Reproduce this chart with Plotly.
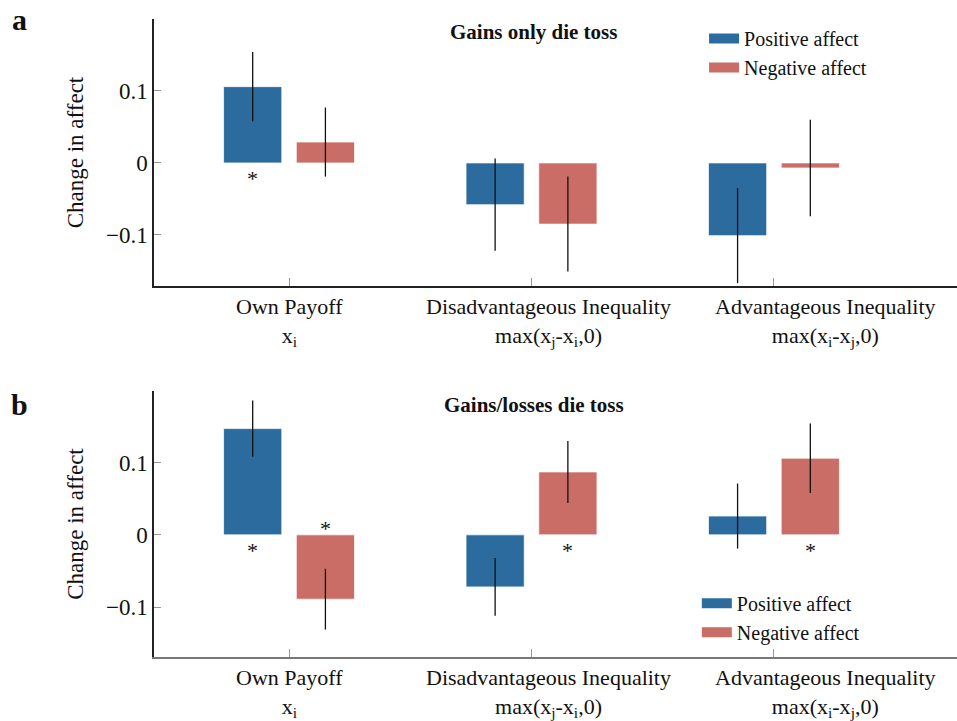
import plotly.graph_objects as go

categories = ["own", "disadv", "adv"]
cat_labels = ["Own Payoff<br>x<sub>i</sub>",
              "Disadvantageous Inequality<br>max(x<sub>j</sub>-x<sub>i</sub>,0)",
              "Advantageous Inequality<br>max(x<sub>i</sub>-x<sub>j</sub>,0)"]
label_shift = [0, 17, 52]

# Panel a: gains only die toss
a_pos = [0.106, -0.058, -0.101]
a_pos_err = [0.048, 0.064, 0.066]
a_neg = [0.029, -0.085, -0.007]
a_neg_err = [0.048, 0.066, 0.067]
a_stars_pos = ["below", None, None]
a_stars_neg = [None, None, None]

# Panel b: gains/losses die toss
b_pos = [0.147, -0.072, 0.026]
b_pos_err = [0.039, 0.040, 0.045]
b_neg = [-0.089, 0.087, 0.106]
b_neg_err = [0.042, 0.043, 0.048]
b_stars_pos = ["below", None, None]
b_stars_neg = ["above", "below", "below"]

BLUE = "#2c6b9e"
RED = "#c96d66"
FONT = "Times New Roman, Liberation Serif, DejaVu Serif, serif"
BARGAP = 0.4
BARGROUPGAP = 0.2
slot = (1 - BARGAP) / 2

fig = go.Figure()

def add_panel(pos, pos_err, neg, neg_err, xa, ya, legend):
    fig.add_trace(go.Bar(x=categories, y=pos, name="Positive affect",
                         marker=dict(color=BLUE, line=dict(color="rgba(255,255,255,0.7)", width=1)),
                         error_y=dict(type="data", array=pos_err, color="#111", thickness=1.3, width=0),
                         xaxis=xa, yaxis=ya, showlegend=False, offsetgroup="p"))
    fig.add_trace(go.Bar(x=categories, y=neg, name="Negative affect",
                         marker=dict(color=RED, line=dict(color="rgba(255,255,255,0.7)", width=1)),
                         error_y=dict(type="data", array=neg_err, color="#111", thickness=1.3, width=0),
                         xaxis=xa, yaxis=ya, showlegend=False, offsetgroup="n"))
    for nm, col in [("Positive affect", BLUE), ("Negative affect", RED)]:
        fig.add_trace(go.Scatter(x=[None], y=[None], mode="lines", name=nm,
                                 line=dict(color=col, width=12),
                                 xaxis=xa, yaxis=ya, legend=legend))

add_panel(a_pos, a_pos_err, a_neg, a_neg_err, "x", "y", "legend")
add_panel(b_pos, b_pos_err, b_neg, b_neg_err, "x2", "y2", "legend2")

annotations = []

def stars(marks, sign, xref, yref):
    for i, m in enumerate(marks):
        if m is None:
            continue
        annotations.append(dict(x=i + sign * slot / 2, y=0, xref=xref, yref=yref,
                                text="*", showarrow=False,
                                yanchor="middle",
                                yshift=-16 if m == "below" else 6,
                                font=dict(family=FONT, size=22, color="#111")))

stars(a_stars_pos, -1, "x", "y")
stars(a_stars_neg, 1, "x", "y")
stars(b_stars_pos, -1, "x2", "y2")
stars(b_stars_neg, 1, "x2", "y2")

for xref, yref in [("x", "y domain"), ("x2", "y2 domain")]:
    for i, lab in enumerate(cat_labels):
        annotations.append(dict(x=i, y=0, xref=xref, yref=yref, text=lab,
                                showarrow=False, yanchor="top", yshift=-6,
                                xshift=label_shift[i],
                                font=dict(family=FONT, size=22, color="#111")))

annotations += [
    dict(x=1, y=1, xref="x", yref="y domain", text="<b>Gains only die toss</b>",
         showarrow=False, yanchor="middle", yshift=-13, xshift=2,
         font=dict(family=FONT, size=21, color="#111")),
    dict(x=1, y=1, xref="x2", yref="y2 domain", text="<b>Gains/losses die toss</b>",
         showarrow=False, yanchor="middle", yshift=-14, xshift=2,
         font=dict(family=FONT, size=21, color="#111")),
    dict(x=19, y=19, xref="paper", yref="paper", text="<b>a</b>", showarrow=False,
         font=dict(family=FONT, size=30, color="#111")),
    dict(x=19, y=405, xref="paper", yref="paper", text="<b>b</b>", showarrow=False,
         font=dict(family=FONT, size=30, color="#111")),
]

# convert the panel-letter pixel positions into paper coordinates
W, H = 957, 721
ML, MR, MT, MB = 154, 0, 19, 64
for ann in annotations:
    if ann["xref"] == "paper":
        ann["x"] = (ann["x"] - ML) / (W - ML - MR)
        ann["y"] = (H - MB - ann["y"]) / (H - MT - MB)
        ann["xanchor"] = "center"
        ann["yanchor"] = "middle"

xcommon = dict(range=[-0.557, 2.755], showline=True, linewidth=1.5,
               ticks="inside", ticklen=8, tickcolor="#999", showticklabels=False,
               showgrid=False, zeroline=False, automargin=False)
ycommon = dict(showline=True, linewidth=1.5, linecolor="#222",
               ticks="inside", ticklen=7, tickcolor="#999",
               tickvals=[-0.1, 0, 0.1], ticktext=["\u22120.1", "0", "0.1"],
               tickfont=dict(family=FONT, size=23, color="#111"),
               showgrid=False, zeroline=False, automargin=False,
               title=dict(text="Change in affect", font=dict(family=FONT, size=23, color="#111"), standoff=16))

fig.update_layout(
    width=W, height=H,
    margin=dict(l=ML, r=MR, t=MT, b=MB),
    paper_bgcolor="white", plot_bgcolor="white",
    barmode="group", bargap=BARGAP, bargroupgap=BARGROUPGAP,
    xaxis=dict(xcommon, anchor="y", linecolor="#222"),
    yaxis=dict(ycommon, domain=[0.5815, 1.0], range=[-0.171, 0.2], anchor="x"),
    xaxis2=dict(xcommon, anchor="y2", linecolor="#777"),
    yaxis2=dict(ycommon, domain=[0.0, 0.4169], range=[-0.169, 0.199], anchor="x2"),
    legend=dict(x=0.685, y=1.0, xanchor="left", yanchor="top",
                font=dict(family=FONT, size=20, color="#111"),
                bgcolor="rgba(0,0,0,0)", itemwidth=30, tracegroupgap=0),
    legend2=dict(x=0.676, y=0.115, xanchor="left", yanchor="top",
                 font=dict(family=FONT, size=20, color="#111"),
                 bgcolor="rgba(0,0,0,0)", itemwidth=30, tracegroupgap=0),
    annotations=annotations,
    font=dict(family=FONT, color="#111"),
)

fig.write_html("out.html", config={"displayModeBar": False},
               post_script="document.body.style.margin='0';")
